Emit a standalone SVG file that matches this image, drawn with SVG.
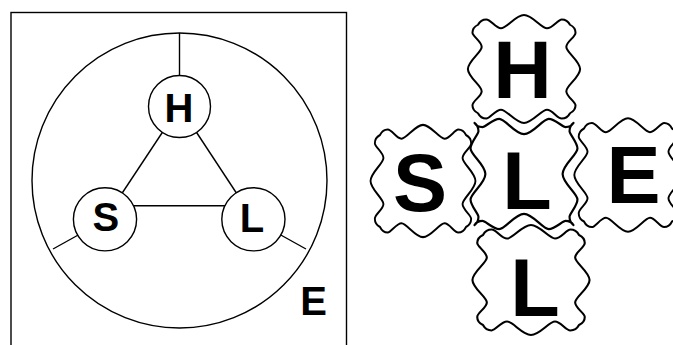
<svg xmlns="http://www.w3.org/2000/svg" xmlns:xlink="http://www.w3.org/1999/xlink" width="673" height="345" viewBox="0 0 673 345">
<style>
.ln{stroke:#000;stroke-width:1.4;fill:none}
.nd{fill:#fff;stroke:#000;stroke-width:1.4}
.tile{fill:#fff;stroke:#000;stroke-width:2.2;stroke-linejoin:round}
.t{font-family:"Liberation Sans",Arial,sans-serif;font-weight:bold;fill:#000;text-anchor:middle}
.s{font-size:40px}
.b{font-size:81px}
</style>
<defs>
<path id="waveA" d="M -50 -50 C -48 -54 -46 -56 -41 -56 S -31 -46 -25 -46 S -9 -61 0 -61 S 19 -46 25 -46 S 37 -56 41 -56 S 48 -54 50 -50 C 54 -48 56 -46 56 -41 S 46 -31 46 -25 S 61 -9 61 0 S 46 19 46 25 S 56 37 56 41 S 54 48 50 50 C 48 54 46 56 41 56 S 31 46 25 46 S 9 61 0 61 S -19 46 -25 46 S -37 56 -41 56 S -48 54 -50 50 C -54 48 -56 46 -56 41 S -46 31 -46 25 S -61 9 -61 0 S -46 -19 -46 -25 S -56 -37 -56 -41 S -54 -48 -50 -50 Z"/>
<path id="waveB" d="M -50 -50 C -48 -47 -45 -46 -42 -46 S -31 -54 -25 -54 S -9 -39 0 -39 S 19 -54 25 -54 S 39 -46 42 -46 S 48 -47 50 -50 C 47 -48 46 -45 46 -42 S 54 -31 54 -25 S 39 -9 39 0 S 54 19 54 25 S 46 39 46 42 S 47 48 50 50 C 48 47 45 46 42 46 S 31 54 25 54 S 9 39 0 39 S -19 54 -25 54 S -39 46 -42 46 S -48 47 -50 50 C -47 48 -46 45 -46 42 S -54 31 -54 25 S -39 9 -39 0 S -54 -19 -54 -25 S -46 -39 -46 -42 S -47 -48 -50 -50 Z"/>
</defs>
<g id="left-panel">
<rect x="11" y="12.5" width="335.5" height="345" class="ln"/>
<circle id="environment" cx="179.5" cy="180.5" r="147.5" class="ln"/>
</g>
<g id="connectors">
<line x1="179.5" y1="33" x2="179.5" y2="76" class="ln"/>
<line x1="53" y1="249" x2="80" y2="234" class="ln"/>
<line x1="279" y1="234" x2="306" y2="249" class="ln"/>
<line x1="179.5" y1="106.5" x2="105" y2="219" class="ln"/>
<line x1="179.5" y1="106.5" x2="253.5" y2="219" class="ln"/>
<line x1="130" y1="205.7" x2="230" y2="205.7" class="ln"/>
</g>
<g id="node-H">
<circle cx="179.5" cy="106.5" r="31" class="nd"/>
<text x="179" y="122" class="t s">H</text>
</g>
<g id="node-S">
<circle cx="105" cy="219.3" r="31.6" class="nd"/>
<text x="105.8" y="231" class="t s">S</text>
</g>
<g id="node-L">
<circle cx="253.4" cy="219.3" r="31.6" class="nd"/>
<text x="252" y="231.5" class="t s">L</text>
</g>
<g id="label-E">
<text x="313.5" y="315" class="t" style="font-size:40px">E</text>
</g>
<g id="tile-H">
<use xlink:href="#waveA" class="tile" transform="translate(524,69) scale(0.92,0.885)"/>
<text x="522.5" y="98" class="t b">H</text>
</g>
<g id="tile-L-center">
<use xlink:href="#waveB" class="tile" transform="translate(524,174) scale(0.99,1.02)"/>
<text x="527" y="209" class="t b">L</text>
</g>
<g id="tile-S">
<use xlink:href="#waveA" class="tile" transform="translate(423,181) scale(0.86,0.92)"/>
<text x="420" y="211" class="t b">S</text>
</g>
<g id="tile-E">
<use xlink:href="#waveA" class="tile" transform="translate(628,175) scale(0.88,0.93)"/>
<text x="633.5" y="203" class="t b">E</text>
</g>
<g id="tile-L-bottom">
<use xlink:href="#waveA" class="tile" transform="translate(531,280) scale(0.96,0.9)"/>
<text x="535" y="316" class="t b">L</text>
</g>
</svg>
